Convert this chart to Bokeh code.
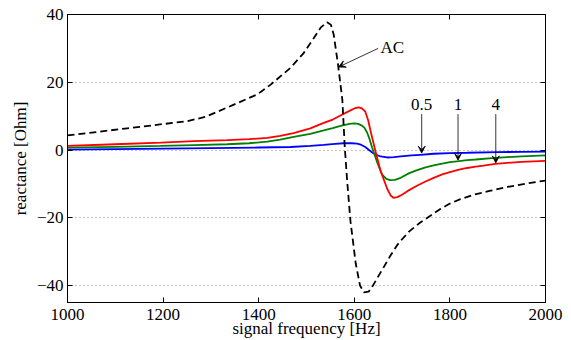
from bokeh.plotting import figure
from bokeh.models import (Range1d, LinearAxis, FixedTicker, Arrow, VeeHead, Label,
                          CustomJSTickFormatter)
from bokeh.embed import file_html
from bokeh.resources import INLINE

# ---- data ----
x_ticks = [1000, 1200, 1400, 1600, 1800, 2000]
y_ticks = [-40, -20, 0, 20, 40]

freq_ac = [1000, 1125, 1250, 1289, 1348, 1397, 1425, 1466, 1494, 1515, 1530, 1543,
           1551, 1557, 1566, 1575, 1580, 1585, 1592, 1603, 1612, 1620, 1630, 1637,
           1648, 1661, 1675, 1690, 1697, 1715, 1738, 1760, 1780, 1800, 1822, 1850,
           1885, 1920, 1960, 2000]
react_ac = [4.3, 6.4, 8.5, 9.8, 13.4, 16.4, 19.3, 24.2, 28.6, 33.0, 36.2, 37.7,
            37.0, 34.0, 25.2, 14.8, 1.0, -9.0, -21.0, -33.5, -40.0, -42.0, -41.8, -40.5,
            -37.8, -34.7, -31.3, -28.0, -26.8, -24.0, -21.4, -19.3, -17.4, -15.8, -14.5, -13.2,
            -12.0, -10.9, -9.9, -9.0]

freq_4 = [1000, 1100, 1195, 1265, 1334, 1380, 1418, 1445, 1473, 1508, 1536, 1555,
          1571, 1592, 1602, 1609, 1616, 1623, 1629, 1634, 1644, 1655, 1669, 1676,
          1682, 1690, 1700, 1714, 1730, 1749, 1766, 1784, 1800, 1819, 1836, 1854,
          1870, 1895, 1920, 1950, 2000]
react_4 = [1.2, 1.7, 2.2, 2.6, 2.9, 3.2, 3.6, 4.2, 5.0, 6.4, 8.0, 9.0,
           10.2, 11.7, 12.4, 12.6, 12.3, 11.3, 8.8, 5.6, -0.2, -6.2, -11.5, -13.4,
           -14.1, -13.9, -13.2, -11.9, -10.6, -9.3, -8.2, -7.2, -6.5, -5.8, -5.3, -4.9,
           -4.6, -4.1, -3.8, -3.5, -3.2]

freq_1 = [1000, 1100, 1195, 1265, 1334, 1380, 1418, 1445, 1473, 1508, 1536, 1555,
          1571, 1590, 1600, 1608, 1615, 1621, 1627, 1632, 1637, 1648, 1658, 1667,
          1675, 1685, 1697, 1714, 1730, 1749, 1766, 1784, 1800, 1819, 1836, 1854,
          1888, 1920, 1950, 2000]
react_1 = [0.7, 0.95, 1.2, 1.45, 1.7, 2.0, 2.5, 3.1, 3.9, 4.8, 5.8, 6.5,
           7.1, 7.7, 7.85, 7.7, 7.3, 6.6, 5.1, 3.2, 0.8, -3.7, -7.2, -8.5,
           -8.9, -8.8, -8.2, -6.9, -6.0, -5.1, -4.5, -4.0, -3.6, -3.3, -3.0, -2.8,
           -2.4, -2.1, -1.9, -1.6]

freq_05 = [1000, 1100, 1200, 1300, 1400, 1466, 1508, 1536, 1560, 1578, 1595, 1606,
           1615, 1623, 1630, 1637, 1646, 1655, 1669, 1683, 1697, 1720, 1738, 1766,
           1800, 1836, 1900, 1950, 2000]
react_05 = [0.1, 0.25, 0.4, 0.55, 0.75, 0.9, 1.2, 1.5, 1.8, 2.0, 2.0, 1.9,
            1.5, 0.9, 0.1, -0.7, -1.4, -1.9, -2.2, -2.1, -1.9, -1.6, -1.4, -1.1,
            -0.9, -0.8, -0.6, -0.55, -0.5]

FONT = "Liberation Serif"
FS = "17px"

p = figure(width=571, height=340, output_backend="svg", toolbar_location=None,
           x_range=Range1d(1000, 2000), y_range=Range1d(-45, 40),
           min_border_left=67, min_border_right=26, min_border_top=14,
           min_border_bottom=38, background_fill_color="white",
           border_fill_color="white")
p.outline_line_color = "black"
p.outline_line_width = 1

p.xgrid.visible = False
p.ygrid.ticker = FixedTicker(ticks=y_ticks)
p.ygrid.grid_line_color = "#8c8c8c"
p.ygrid.grid_line_dash = "1 3"
p.ygrid.grid_line_width = 1

def style_axis(ax, ticks, show_labels=True):
    ax.ticker = FixedTicker(ticks=ticks)
    ax.major_tick_in = 5
    ax.major_tick_out = 0
    ax.minor_tick_line_color = None
    ax.axis_line_color = "black"
    ax.major_tick_line_color = "black"
    if show_labels:
        ax.major_label_text_font = FONT
        ax.major_label_text_font_size = FS
        ax.major_label_text_color = "black"
    else:
        ax.formatter = CustomJSTickFormatter(code="return '';")
        ax.major_label_standoff = 0

xa = p.xaxis[0]
style_axis(xa, x_ticks)
xa.major_label_standoff = 6
xa.axis_label = "signal frequency [Hz]"
xa.axis_label_text_font = FONT
xa.axis_label_text_font_size = FS
xa.axis_label_text_font_style = "normal"
xa.axis_label_text_color = "black"
xa.axis_label_standoff = -4

ya = p.yaxis[0]
style_axis(ya, y_ticks)
ya.major_label_standoff = 4
ya.formatter = CustomJSTickFormatter(
    code="return tick < 0 ? '\u2212' + (-tick) : '' + tick;")
ya.axis_label = "reactance [Ohm]"
ya.axis_label_text_font = FONT
ya.axis_label_text_font_size = FS
ya.axis_label_text_font_style = "normal"
ya.axis_label_text_color = "black"
ya.axis_label_standoff = 4

top = LinearAxis()
style_axis(top, x_ticks, show_labels=False)
p.add_layout(top, "above")
right = LinearAxis()
style_axis(right, y_ticks, show_labels=False)
p.add_layout(right, "right")

# curves
p.line(freq_05, react_05, line_color="#0000ff", line_width=1.8)
p.line(freq_1, react_1, line_color="#008000", line_width=1.8)
p.line(freq_4, react_4, line_color="#ff0000", line_width=1.8)
p.line(freq_ac, react_ac, line_color="black", line_width=1.8, line_dash="7 4")

# annotations
p.add_layout(Label(x=1655, y=30.4, text="AC", text_font=FONT, text_font_size=FS,
                   text_align="left", text_baseline="middle", text_color="black"))
p.add_layout(Arrow(x_start=1650, y_start=30.0, x_end=1567, y_end=24.5,
                   line_width=0.8, line_color="black",
                   end=VeeHead(size=7, fill_color="black", line_color="black", line_width=0.8)))

for lbl, xpos, ytip in [("0.5", 1741, -0.9), ("1", 1817, -3.0), ("4", 1896, -3.8)]:
    p.add_layout(Label(x=xpos, y=13.5, text=lbl, text_font=FONT, text_font_size=FS,
                       text_align="center", text_baseline="middle", text_color="black"))
    p.add_layout(Arrow(x_start=xpos, y_start=10.6, x_end=xpos, y_end=ytip,
                       line_width=0.8, line_color="black",
                       end=VeeHead(size=7, fill_color="black", line_color="black",
                                   line_width=0.8)))

open("out.html", "w").write(file_html(p, INLINE))
